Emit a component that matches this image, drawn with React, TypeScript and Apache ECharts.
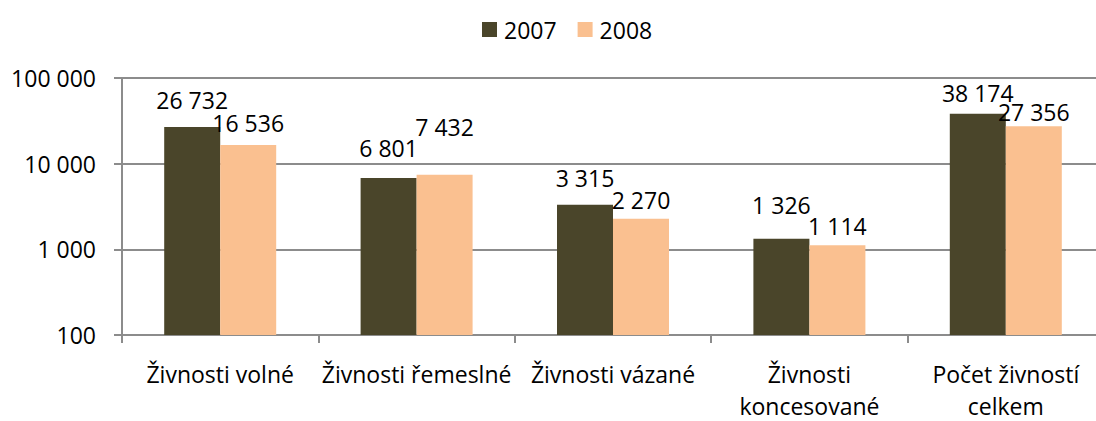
import React, { useEffect, useRef } from "react";
import * as echarts from "echarts";

const categories = [
  "Živnosti volné",
  "Živnosti řemeslné",
  "Živnosti vázané",
  "Živnosti koncesované",
  "Počet živností celkem",
];
const seriesNames = ["2007", "2008"];
const values2007 = [26732, 6801, 3315, 1326, 38174];
const values2008 = [16536, 7432, 2270, 1114, 27356];
// distance (px) from bar top to label centre, as placed in the original chart
const labelLift2007 = [27, 30, 27, 34, 21];
const labelLift2008 = [22, 48, 19, 19, 14];
const yTicks = [100, 1000, 10000, 100000];

const FONT = "'Open Sans', Lato, sans-serif";
const FS = 23;
const GRAY = "#8c8c8c";
const colors = ["#4a452a", "#fac090"];

const fmt = (v: number) =>
  String(Math.round(v)).replace(/\B(?=(\d{3})+(?!\d))/g, " ");

// greedy word wrap by character count
const wrap = (s: string, max = 18) => {
  const words = s.split(" ");
  const lines: string[] = [];
  let cur = "";
  for (const w of words) {
    if (!cur) cur = w;
    else if ((cur + " " + w).length <= max) cur += " " + w;
    else {
      lines.push(cur);
      cur = w;
    }
  }
  if (cur) lines.push(cur);
  return lines.join("\n");
};

export default function App() {
  const ref = useRef<HTMLDivElement>(null);
  useEffect(() => {
    if (!ref.current) return;
    const chart = echarts.init(ref.current, undefined, { renderer: "svg" });
    const mkData = (vals: number[], lifts: number[]) =>
      vals.map((v, i) => ({
        value: v,
        label: { offset: [0, -(lifts[i] - FS / 2)] },
      }));
    const barLabel = {
      show: true,
      position: "top",
      distance: 0,
      fontFamily: FONT,
      fontSize: FS,
      lineHeight: FS,
      color: "#000",
      formatter: (p: any) => fmt(p.value),
    };
    chart.setOption({
      animation: false,
      textStyle: { fontFamily: FONT },
      legend: {
        data: seriesNames,
        left: 477,
        top: 13,
        itemWidth: 15,
        itemHeight: 15,
        itemGap: 21,
        icon: "rect",
        textStyle: {
          fontFamily: FONT,
          fontSize: FS,
          color: "#000",
          lineHeight: 22,
          padding: [0, 0, 0, 2],
        },
      },
      grid: {
        left: 122,
        right: -8,
        top: 78,
        bottom: 86,
        containLabel: false,
        outerBoundsMode: "none",
      },
      xAxis: {
        type: "category",
        data: categories,
        axisLine: { lineStyle: { color: GRAY, width: 2 } },
        axisTick: { show: true, length: 8, lineStyle: { color: GRAY, width: 2 } },
        axisLabel: {
          interval: 0,
          margin: 23,
          fontFamily: FONT,
          fontSize: FS,
          color: "#000",
          lineHeight: 32,
          formatter: (v: string) => wrap(v),
        },
      },
      yAxis: {
        type: "log",
        logBase: 10,
        min: yTicks[0],
        max: yTicks[yTicks.length - 1],
        axisLine: { show: true, lineStyle: { color: GRAY, width: 2 } },
        axisTick: { show: true, length: 8, lineStyle: { color: GRAY, width: 2 } },
        splitLine: { show: true, lineStyle: { color: GRAY, width: 2 } },
        axisLabel: {
          margin: 26,
          fontFamily: FONT,
          fontSize: FS,
          color: "#000",
          formatter: (v: number) => fmt(v),
        },
      },
      series: [
        {
          name: seriesNames[0],
          type: "bar",
          barWidth: 56,
          barGap: "0%",
          itemStyle: { color: colors[0] },
          label: barLabel,
          data: mkData(values2007, labelLift2007),
        },
        {
          name: seriesNames[1],
          type: "bar",
          barWidth: 56,
          barGap: "0%",
          itemStyle: { color: colors[1] },
          label: barLabel,
          data: mkData(values2008, labelLift2008),
        },
      ],
    });
    return () => chart.dispose();
  }, []);
  return (
    <div
      ref={ref}
      style={{ position: "absolute", left: 0, top: 0, width: 1096, height: 421 }}
    />
  );
}
